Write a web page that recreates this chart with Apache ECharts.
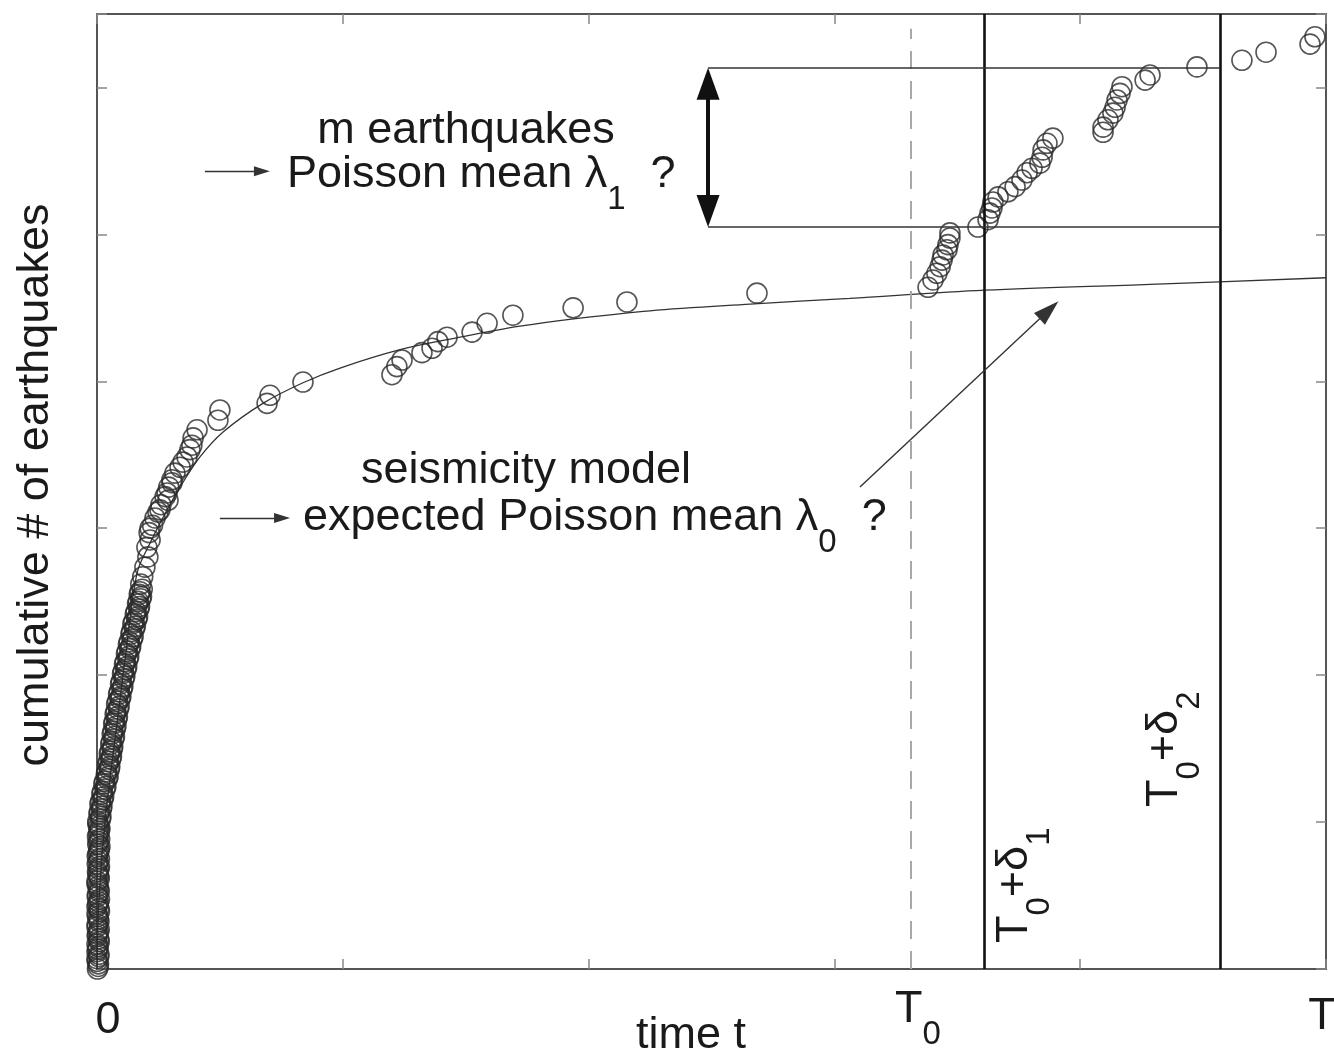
<!DOCTYPE html>
<html>
<head>
<meta charset="utf-8">
<script src="https://cdn.jsdelivr.net/npm/echarts@6.0.0/dist/echarts.min.js"></script>
<style>
  html, body { margin: 0; padding: 0; background: #fff; }
  #main { width: 1334px; height: 1059px; }
</style>
</head>
<body>
<div id="main"></div>
<script>
// event times (x) and cumulative counts (y)
const eqTime = [
  0.002, 0.006, 0.000, 0.008, 0.003, 0.000, 0.007, 0.002, 0.009, 0.001,
  0.006, 0.000, 0.008, 0.003, 0.010, 0.002, 0.007, 0.000, 0.009, 0.004,
  0.008, 0.001, 0.010, 0.004, 0.009, 0.003, 0.011, 0.006, 0.012, 0.004,
  0.014, 0.008, 0.018, 0.012, 0.024, 0.020, 0.033, 0.028, 0.042, 0.038,
  0.050, 0.044, 0.056, 0.050, 0.062, 0.056, 0.068, 0.062, 0.074, 0.068,
  0.080, 0.074, 0.087, 0.080, 0.094, 0.088, 0.102, 0.096, 0.110, 0.104,
  0.118, 0.112, 0.126, 0.120, 0.134, 0.128, 0.143, 0.138, 0.152, 0.146,
  0.162, 0.156, 0.170, 0.165, 0.178, 0.172, 0.184, 0.178,
  0.186, 0.195, 0.207, 0.203, 0.216, 0.212, 0.226, 0.236, 0.256, 0.289,
  0.285, 0.292, 0.305, 0.317, 0.338, 0.366, 0.378, 0.391, 0.407, 0.492,
  0.500, 0.692, 0.704, 0.838,
  1.200, 1.220, 1.241, 1.322, 1.363, 1.387, 1.424, 1.526, 1.587, 1.692,
  1.937, 2.156, 2.685,
  3.381, 3.401, 3.417, 3.430, 3.438, 3.442, 3.458, 3.462, 3.470, 3.470,
  3.584, 3.625, 3.633, 3.641, 3.645, 3.666, 3.706, 3.735, 3.763, 3.784,
  3.804, 3.836, 3.845, 3.849, 3.865, 3.889,
  4.093, 4.093, 4.113, 4.133, 4.142, 4.150, 4.162, 4.170, 4.264, 4.284,
  4.475, 4.658, 4.756, 4.935, 4.955
];
const eqCount = [
  0.0, 0.7, 1.4, 2.0, 2.7, 3.4, 4.1, 4.8, 5.4, 6.1,
  6.8, 7.5, 8.2, 8.8, 9.5, 10.2, 10.9, 11.6, 12.3, 12.9,
  13.6, 14.3, 15.0, 15.7, 16.3, 17.0, 17.7, 18.4, 19.1, 19.7,
  20.4, 21.1, 21.8, 22.5, 23.1, 23.8, 24.5, 25.2, 25.9, 26.5,
  27.2, 27.9, 28.6, 29.3, 29.9, 30.6, 31.3, 32.0, 32.7, 33.4,
  34.0, 34.7, 35.4, 36.1, 36.8, 37.4, 38.1, 38.8, 39.5, 40.2,
  40.8, 41.5, 42.2, 42.9, 43.6, 44.2, 44.9, 45.6, 46.3, 47.0,
  47.6, 48.3, 49.0, 49.7, 50.4, 51.0, 51.7, 52.4,
  53.4, 54.7, 56.1, 57.4, 58.4, 59.4, 60.4, 61.4, 62.5, 63.8,
  64.8, 65.6, 66.6, 67.5, 68.3, 69.7, 70.7, 72.3, 73.4, 74.7,
  76.1, 77.0, 78.1, 79.9,
  80.9, 82.0, 82.9, 83.9, 84.5, 85.4, 86.0, 86.7, 87.9, 89.0,
  90.0, 90.8, 92.0,
  92.8, 93.8, 94.7, 95.6, 96.5, 97.2, 97.9, 98.6, 99.5, 100.2,
  101.0, 102.0, 102.9, 103.6, 104.4, 105.1, 105.8, 106.5, 107.4, 108.4,
  109.0, 109.7, 110.5, 111.5, 112.4, 113.1,
  113.9, 114.6, 115.6, 116.5, 117.3, 118.3, 119.2, 120.1, 121.0, 121.7,
  122.8, 123.7, 124.8, 125.9, 126.9
];

// the crowded early aftershocks (second pass over the dense stack)
const earlyTime = [
  0.005, 0.001, 0.007, 0.000, 0.005, 0.009, 0.001, 0.006, 0.000, 0.008,
  0.003, 0.010, 0.000, 0.006, 0.001, 0.009, 0.004, 0.000, 0.007, 0.002,
  0.010, 0.005, 0.001, 0.007, 0.012, 0.006, 0.002, 0.009, 0.008, 0.003,
  0.016, 0.010, 0.020, 0.015, 0.027, 0.022, 0.036, 0.031, 0.045, 0.040,
  0.052, 0.047, 0.059, 0.053, 0.064, 0.059, 0.071, 0.065, 0.077, 0.071,
  0.083, 0.077, 0.090, 0.084, 0.097, 0.091, 0.105, 0.099, 0.113, 0.107,
  0.121, 0.115, 0.129, 0.123, 0.137, 0.131, 0.147, 0.141, 0.156, 0.150,
  0.165, 0.159, 0.173, 0.168, 0.181, 0.175,
  0.216, 0.248, 0.260, 0.277, 0.305, 0.350, 0.386
];
const earlyCount = [
  0.35, 1.05, 1.7, 2.35, 3.05, 3.75, 4.45, 5.1, 5.75, 6.45,
  7.15, 7.85, 8.5, 9.15, 9.85, 10.55, 11.25, 11.95, 12.6, 13.25,
  13.95, 14.65, 15.35, 16.0, 16.65, 17.35, 18.05, 18.75, 19.4, 20.05,
  20.75, 21.45, 22.15, 22.8, 23.45, 24.15, 24.85, 25.55, 26.2, 26.85,
  27.55, 28.25, 28.95, 29.6, 30.25, 30.95, 31.65, 32.35, 33.05, 33.7,
  34.35, 35.05, 35.75, 36.45, 37.1, 37.75, 38.45, 39.15, 39.85, 40.5,
  41.15, 41.85, 42.55, 43.25, 43.9, 44.55, 45.25, 45.95, 46.65, 47.3,
  47.95, 48.65, 49.35, 50.05, 50.7, 51.35,
  60.0, 62.2, 63.2, 64.3, 66.2, 69.0, 71.3
];

// seismicity model curve
const modelTime = [0, 0.008, 0.033, 0.073, 0.114, 0.163, 0.216, 0.269, 0.338, 0.419,
  0.513, 0.675, 0.838, 0.989, 1.233, 1.477, 1.721, 1.965, 2.250, 2.657,
  3.063, 3.613, 4.284, 5.0];
const modelCount = [0, 9.4, 20.3, 31.2, 42.1, 53.9, 58.0, 61.5, 65.6, 69.7,
  73.1, 77.0, 79.8, 81.8, 84.3, 86.0, 87.5, 88.6, 89.6, 90.5,
  91.3, 92.4, 93.2, 94.1];

// time marks: T0, T0+d1, T0+d2
const T0 = 3.309;
const windowEnds = [3.613, 4.569];
// levels bracketing the m earthquakes, and where the double arrow sits
const mLevels = [101.0, 122.7];
const mArrowT = 2.486;

const FONT = "'Liberation Sans', Arial, sans-serif";
const INK = '#1a1a1a';

const chart = echarts.init(document.getElementById('main'));

const axisCommon = {
  type: 'value',
  axisLine: { show: true, onZero: false, lineStyle: { color: '#555', width: 2 } },
  axisTick: { show: true, inside: true, length: 10, lineStyle: { color: '#888', width: 1.5 } },
  axisLabel: { show: false },
  splitLine: { show: false }
};

const richSub = {
  m: { font: '45px ' + FONT, lineHeight: 45, verticalAlign: 'top' },
  s: { font: '33px ' + FONT, lineHeight: 33, padding: [31, 0, 0, 0], verticalAlign: 'top' }
};

function plain(x, y, text, align) {
  return { type: 'text', x: x, y: y, z: 100, silent: true,
    style: { text: text, font: '45px ' + FONT, fill: INK, align: align || 'center', verticalAlign: 'middle' } };
}
function withSub(x, y, text, rot) {
  return { type: 'text', x: x, y: y, z: 100, silent: true, rotation: rot || 0,
    style: { text: text, fill: INK, align: 'left', verticalAlign: 'top', rich: richSub } };
}

const thinArrow = { color: '#333', width: 1.4, type: 'solid' };

const points = eqTime.map((t, i) => [t, eqCount[i]])
  .concat(earlyTime.map((t, i) => [t, earlyCount[i]]));

chart.setOption({
  animation: false,
  backgroundColor: '#fff',
  grid: { left: 97, right: 8, top: 14, bottom: 90 },
  xAxis: [
    Object.assign({ min: 0, max: 5, interval: 1, position: 'bottom' }, axisCommon),
    Object.assign({ min: 0, max: 5, interval: 1, position: 'top' }, axisCommon)
  ],
  yAxis: [
    Object.assign({ min: 0, max: 130, interval: 20, position: 'left' }, axisCommon),
    Object.assign({ min: 0, max: 130, interval: 20, position: 'right' }, axisCommon)
  ],
  series: [
    {
      type: 'line',
      data: modelTime.map((t, i) => [t, modelCount[i]]),
      smooth: 0.35,
      showSymbol: false,
      silent: true,
      z: 2,
      lineStyle: { color: '#333', width: 1.3 },
      markLine: {
        silent: true,
        symbol: ['none', 'none'],
        label: { show: false },
        data: [
          [{ coord: [T0, 0], lineStyle: { color: '#a8a8a8', width: 2, type: [18, 12] } }, { coord: [T0, 128] }],
          { xAxis: windowEnds[0], lineStyle: { color: '#111', width: 2.6, type: 'solid' } },
          { xAxis: windowEnds[1], lineStyle: { color: '#111', width: 2.6, type: 'solid' } },
          [{ coord: [mArrowT, mLevels[0]], lineStyle: { color: '#333', width: 1.5, type: 'solid' } }, { coord: [windowEnds[1], mLevels[0]] }],
          [{ coord: [mArrowT, mLevels[1]], lineStyle: { color: '#333', width: 1.5, type: 'solid' } }, { coord: [windowEnds[1], mLevels[1]] }],
          [{ coord: [mArrowT, mLevels[0] + 2.2], symbol: 'triangle', symbolSize: [23, 32], lineStyle: { color: '#111', width: 4, type: 'solid' } },
           { coord: [mArrowT, mLevels[1] - 2.2], symbol: 'triangle', symbolSize: [23, 32] }],
          [{ coord: [3.104, 65.6], lineStyle: thinArrow }, { coord: [3.873, 89.7], symbol: 'triangle', symbolSize: [16, 26] }],
          [{ coord: [0.439, 108.6], lineStyle: thinArrow }, { coord: [0.671, 108.6], symbol: 'triangle', symbolSize: [10, 16] }],
          [{ coord: [0.500, 61.4], lineStyle: thinArrow }, { coord: [0.753, 61.4], symbol: 'triangle', symbolSize: [10, 16] }]
        ]
      }
    },
    {
      type: 'scatter',
      data: points,
      symbol: 'circle',
      symbolSize: 20,
      clip: false,
      silent: true,
      z: 3,
      itemStyle: { color: 'rgba(0,0,0,0)', borderColor: '#2a2a2a', borderWidth: 1.6 }
    }
  ],
  graphic: [
    plain(466, 131, 'm earthquakes'),
    withSub(287, 152, '{m|Poisson mean λ}{s|1}{m|  ?}'),
    plain(526, 471, 'seismicity model'),
    withSub(303, 495, '{m|expected Poisson mean λ}{s|0}{m|  ?}'),
    plain(691, 1036, 'time t'),
    plain(108, 1021, '0'),
    withSub(895, 987, '{m|T}{s|0}'),
    plain(1322, 1017, 'T'),
    withSub(992, 943, '{m|T}{s|0}{m|+δ}{s|1}', Math.PI / 2),
    withSub(1142, 807, '{m|T}{s|0}{m|+δ}{s|2}', Math.PI / 2),
    { type: 'text', x: 36, y: 485, z: 100, silent: true, rotation: Math.PI / 2,
      style: { text: 'cumulative # of earthquakes', font: '45px ' + FONT, fill: INK, align: 'center', verticalAlign: 'middle' } }
  ]
});
</script>
</body>
</html>
